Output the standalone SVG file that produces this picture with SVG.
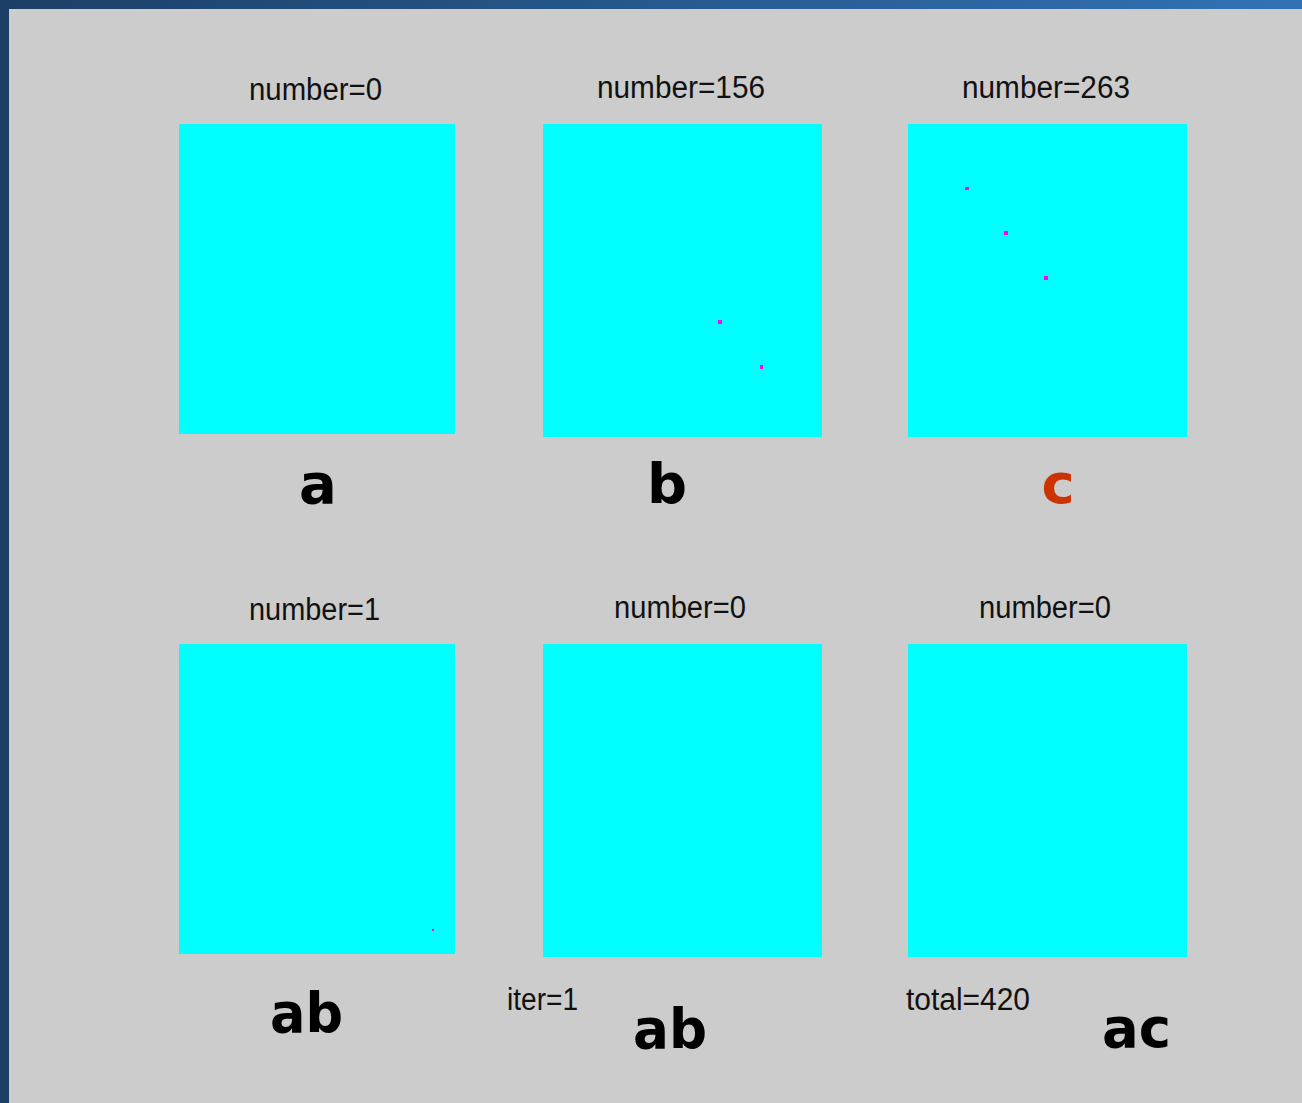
<svg xmlns="http://www.w3.org/2000/svg" width="1302" height="1103" viewBox="0 0 1302 1103">
<defs>
<linearGradient id="top" x1="0" y1="0" x2="1" y2="0">
<stop offset="0" stop-color="#1c3f66"/>
<stop offset="1" stop-color="#3272b4"/>
</linearGradient>
</defs>
<style>
.sq{fill:#00ffff}
.dot{fill:#ff00ff}
.num{font-family:"Liberation Sans",Arial,sans-serif;font-size:31px;fill:#111}
.big{font-family:"DejaVu Sans",sans-serif;font-weight:bold;font-size:56px;fill:#000}
</style>
<rect x="0" y="0" width="1302" height="1103" fill="#1c3f66"/>
<rect x="0" y="0" width="1302" height="9" fill="url(#top)"/>
<rect x="9" y="9" width="1293" height="1094" fill="#cccccc"/>
<g id="panel-a">
<text class="num" x="249" y="100" textLength="133" lengthAdjust="spacingAndGlyphs">number=0</text>
<rect class="sq" x="179" y="124" width="276" height="310"/>
<text class="big" x="318" y="503" text-anchor="middle">a</text>
</g>
<g id="panel-b">
<text class="num" x="597" y="98" textLength="168" lengthAdjust="spacingAndGlyphs">number=156</text>
<rect class="sq" x="543" y="124" width="279" height="313"/>
<rect class="dot" x="718" y="320" width="4" height="4"/>
<rect class="dot" x="760" y="365" width="3" height="4"/>
<text class="big" x="667" y="503" text-anchor="middle">b</text>
</g>
<g id="panel-c">
<text class="num" x="962" y="98" textLength="168" lengthAdjust="spacingAndGlyphs">number=263</text>
<rect class="sq" x="908" y="124" width="279" height="313"/>
<rect class="dot" x="965" y="187" width="4" height="3"/>
<rect class="dot" x="1004" y="231" width="4" height="4"/>
<rect class="dot" x="1044" y="276" width="4" height="4"/>
<text class="big" x="1058" y="503" text-anchor="middle" style="fill:#cc3300">c</text>
</g>
<g id="panel-ab1">
<text class="num" x="249" y="620" textLength="131" lengthAdjust="spacingAndGlyphs">number=1</text>
<rect class="sq" x="179" y="644" width="276" height="310"/>
<rect class="dot" x="432" y="929" width="2" height="2"/>
<text class="big" x="270" y="1032" textLength="73" lengthAdjust="spacingAndGlyphs">ab</text>
</g>
<g id="panel-ab2">
<text class="num" x="614" y="618" textLength="132" lengthAdjust="spacingAndGlyphs">number=0</text>
<rect class="sq" x="543" y="644" width="279" height="313"/>
<text class="big" x="633" y="1048" textLength="74" lengthAdjust="spacingAndGlyphs">ab</text>
</g>
<g id="panel-ac">
<text class="num" x="979" y="618" textLength="132" lengthAdjust="spacingAndGlyphs">number=0</text>
<rect class="sq" x="908" y="644" width="279" height="313"/>
<text class="big" x="1102" y="1047" textLength="69" lengthAdjust="spacingAndGlyphs">ac</text>
</g>
<g id="connectors"></g>
<text class="num" x="507" y="1010" textLength="71" lengthAdjust="spacingAndGlyphs">iter=1</text>
<text class="num" x="906" y="1010" textLength="124" lengthAdjust="spacingAndGlyphs">total=420</text>
</svg>
